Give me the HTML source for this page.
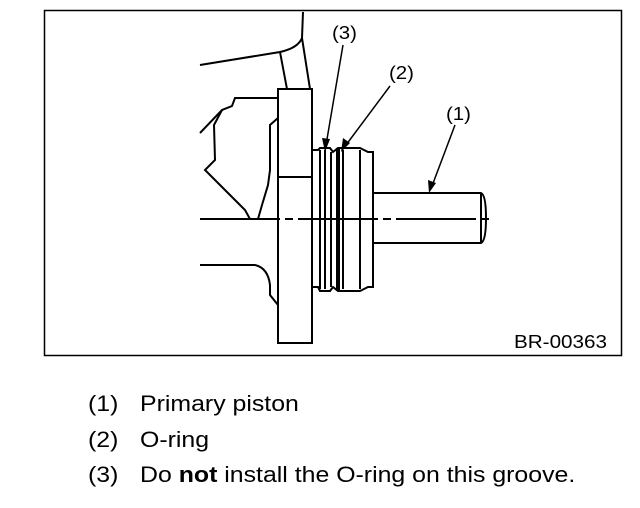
<!DOCTYPE html>
<html><head><style>
body{margin:0;background:#fff;width:640px;height:508px;overflow:hidden;font-family:"Liberation Sans",sans-serif}
.l{position:absolute;font-size:22px;color:#000;transform:scaleX(1.13);transform-origin:0 0;white-space:nowrap}
</style></head><body>
<svg width="640" height="508" style="position:absolute;left:0;top:0" font-family="Liberation Sans, sans-serif">
<rect x="44.5" y="10.5" width="577" height="345" fill="none" stroke="#000" stroke-width="1.5"/>
<g fill="none" stroke="#000" stroke-width="2">
<path d="M200,65 L280,52 Q298,48 302,38 L303,12"/>
<path d="M280,52 L287,89 M302,38 L310,89"/>
<path d="M278,98 L235,98 L232,106 L222,110 L200,133"/>
<path d="M222,110 L214,125 L215,160 L205,170 L230,195 L245,210 L250,219"/>
<path d="M278,118 L270,125 L270,170 L268,185 L262,205 L258,219"/>
<path d="M200,265 L255,265 Q268,268 270,285 L270,295 L278,305"/>
<rect x="278" y="89" width="34" height="88"/>
<path d="M278,177 L312,177 M278,177 L278,343 L312,343 L312,89"/>
<path d="M312,150 L318,150 L320,148 L330,148 L333,152 L338,148 L360,148 L368,152 L373,152 L373,287 L368,287 L360,291 L338,291 L333,287 L330,291 L320,291 L318,287 L312,287"/>
<path d="M320,150 L320,289 M325,150 L325,289 M331,152 L331,287 M343,150 L343,289 M360,150 L360,289"/>
<path d="M373,193 L481,193 Q486,195 486,218 Q486,241 481,243 L373,243"/>
<path d="M481,193 L481,243"/>
</g>
<path d="M338,148 L338,291" stroke="#000" stroke-width="4"/>
<path d="M200,219 L490,219" stroke="#000" stroke-width="2" stroke-dasharray="80,5,8,5"/>
<g stroke="#000" stroke-width="1.5">
<line x1="343" y1="45" x2="326" y2="145"/>
<line x1="390" y1="86" x2="346" y2="145"/>
<line x1="455" y1="125" x2="432" y2="186"/>
</g>
<g fill="#000">
<polygon points="325,152 322,138 330,139"/>
<polygon points="341,152 343,138 350,143"/>
<polygon points="429,193 428,180 436,183"/>
</g>
<g font-size="18" fill="#000">
<text x="332" y="39" textLength="25" lengthAdjust="spacingAndGlyphs">(3)</text>
<text x="389" y="79" textLength="25" lengthAdjust="spacingAndGlyphs">(2)</text>
<text x="446" y="120" textLength="25" lengthAdjust="spacingAndGlyphs">(1)</text>
<text x="514" y="348" textLength="93" lengthAdjust="spacingAndGlyphs">BR-00363</text>
</g>
</svg>
<div class="l" style="left:88px;top:391px">(1)</div><div class="l" style="left:140px;top:391px">Primary piston</div>
<div class="l" style="left:88px;top:427px">(2)</div><div class="l" style="left:140px;top:427px">O-ring</div>
<div class="l" style="left:88px;top:462px">(3)</div><div class="l" style="left:140px;top:462px">Do <b>not</b> install the O-ring on this groove.</div>
</body></html>
